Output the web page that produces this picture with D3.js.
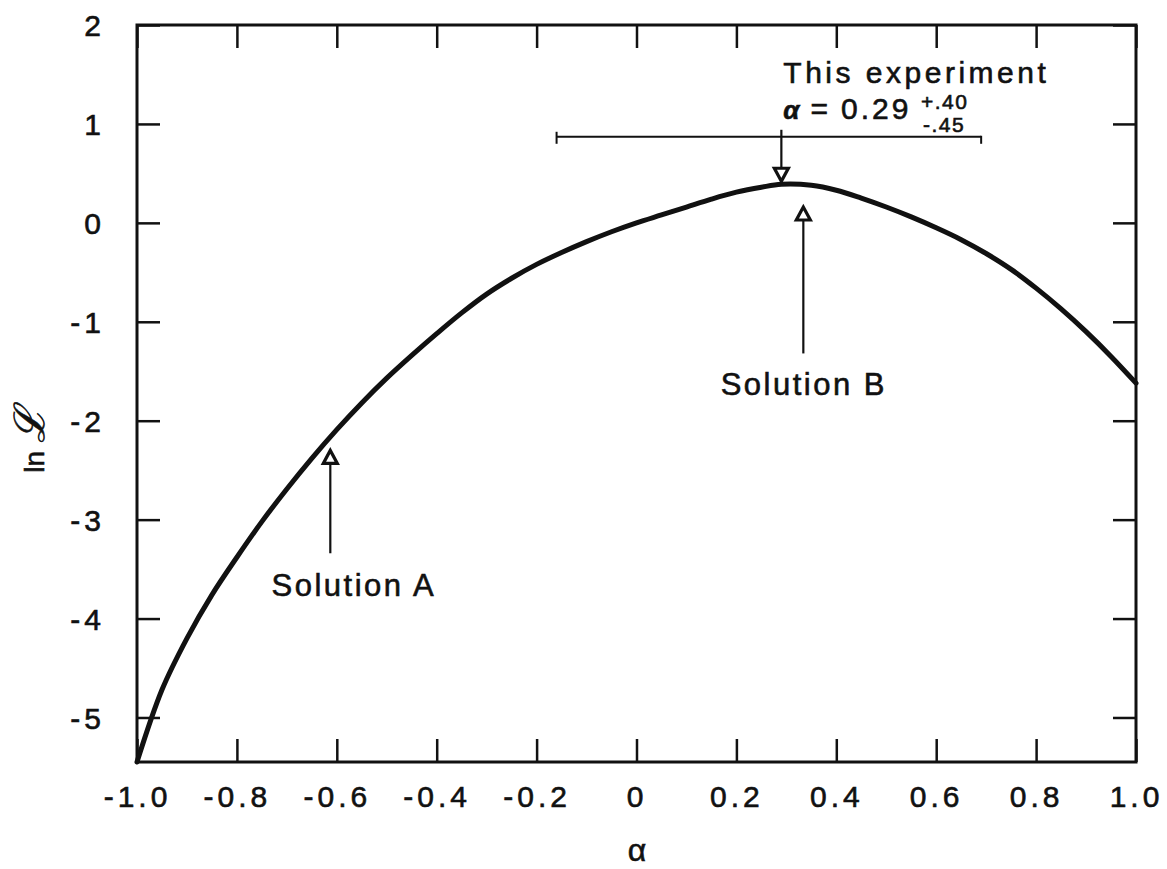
<!DOCTYPE html>
<html>
<head>
<meta charset="utf-8">
<script src="https://cdn.jsdelivr.net/npm/d3@7"></script>
<style>
  html, body { margin: 0; padding: 0; background: #fff; }
  svg { display: block; }
  text { font-family: "Liberation Sans", Arial, sans-serif; fill: #111; stroke: #111; stroke-width: 0.6px; }
</style>
</head>
<body>
<div id="chart"></div>
<script>
// ---- data ----
const alpha = [-1.0, -0.95, -0.9, -0.85, -0.8, -0.75, -0.7, -0.65, -0.6, -0.55, -0.5, -0.45, -0.4, -0.35, -0.3, -0.25, -0.2, -0.15, -0.1, -0.05, 0.0, 0.05, 0.1, 0.15, 0.2, 0.25, 0.29, 0.35, 0.4, 0.45, 0.5, 0.55, 0.6, 0.65, 0.7, 0.75, 0.8, 0.85, 0.9, 0.95, 1.0];
const lnL   = [-5.45, -4.72, -4.20, -3.76, -3.38, -3.02, -2.69, -2.38, -2.09, -1.82, -1.57, -1.34, -1.12, -0.91, -0.72, -0.56, -0.42, -0.30, -0.19, -0.09, 0.0, 0.08, 0.16, 0.24, 0.31, 0.36, 0.39, 0.38, 0.33, 0.25, 0.16, 0.06, -0.05, -0.17, -0.31, -0.47, -0.66, -0.87, -1.10, -1.35, -1.62];
const xTicks = [-1.0, -0.8, -0.6, -0.4, -0.2, 0, 0.2, 0.4, 0.6, 0.8, 1.0];
const xTickLabels = ["-1.0", "-0.8", "-0.6", "-0.4", "-0.2", "0", "0.2", "0.4", "0.6", "0.8", "1.0"];
const yTicks = [-5, -4, -3, -2, -1, 0, 1, 2];
const yTickLabels = ["-5", "-4", "-3", "-2", "-1", "0", "1", "2"];
const bestAlpha = 0.29, errPlus = 0.40, errMinus = 0.45;
const errBarLnL = 0.87;
const solutionA = { label: "Solution A", alpha: -0.613, tip: -2.30, tail: -3.34, textAlpha: -0.566, textLnL: -3.77 };
const solutionB = { label: "Solution B", alpha: 0.334, tip: 0.16, tail: -1.32, textAlpha: 0.335, textLnL: -1.74 };

// ---- layout ----
const W = 1167, H = 869;
const x = d3.scaleLinear().domain([-1, 1]).range([137, 1136]);
const y = d3.scaleLinear().domain([-5.45, 2]).range([762, 25]);

const svg = d3.select("#chart").append("svg").attr("width", W).attr("height", H);

svg.append("rect")
  .attr("x", x(-1)).attr("y", y(2))
  .attr("width", x(1) - x(-1)).attr("height", y(-5.45) - y(2))
  .attr("fill", "none").attr("stroke", "#111").attr("stroke-width", 3);

const tickLen = 23;
const gB = svg.append("g").attr("transform", `translate(0,${y(-5.45)})`)
  .call(d3.axisBottom(x).tickValues(xTicks).tickSizeInner(-tickLen).tickSizeOuter(0)
    .tickFormat((d, i) => xTickLabels[i]).tickPadding(0));
const gT = svg.append("g").attr("transform", `translate(0,${y(2)})`)
  .call(d3.axisTop(x).tickValues(xTicks).tickSizeInner(-tickLen).tickSizeOuter(0).tickFormat(""));
const gL = svg.append("g").attr("transform", `translate(${x(-1)},0)`)
  .call(d3.axisLeft(y).tickValues(yTicks).tickSizeInner(-tickLen).tickSizeOuter(0)
    .tickFormat((d, i) => yTickLabels[i]).tickPadding(0));
const gR = svg.append("g").attr("transform", `translate(${x(1)},0)`)
  .call(d3.axisRight(y).tickValues(yTicks).tickSizeInner(-tickLen).tickSizeOuter(0).tickFormat(""));

[gB, gT, gL, gR].forEach(g => {
  g.select(".domain").remove();
  g.selectAll(".tick line").attr("stroke", "#111").attr("stroke-width", 2.5);
});
gB.selectAll(".tick text")
  .attr("font-size", 30).attr("letter-spacing", 4).attr("fill", "#111")
  .attr("dy", 0).attr("y", 45)
  .style("font-family", "'Liberation Sans', Arial, sans-serif");
gL.selectAll(".tick text")
  .attr("font-size", 30).attr("letter-spacing", 4).attr("fill", "#111")
  .attr("x", -32).attr("dy", "0.36em")
  .style("font-family", "'Liberation Sans', Arial, sans-serif");

svg.append("text").attr("x", 637).attr("y", 861)
  .attr("text-anchor", "middle").attr("font-size", 32).text("α");

svg.append("text")
  .attr("transform", `translate(44,${y(-2.2)}) rotate(-90)`)
  .attr("text-anchor", "middle").attr("font-size", 28)
  .call(t => {
    t.append("tspan").text("ln ");
    t.append("tspan").attr("font-size", 42).attr("font-style", "italic")
      .style("font-family", "'DejaVu Serif', serif").text("ℒ");
  });

const pts = alpha.map((a, i) => [a, lnL[i]]);
svg.append("path")
  .datum(pts)
  .attr("fill", "none").attr("stroke", "#111").attr("stroke-width", 5)
  .attr("stroke-linejoin", "round").attr("stroke-linecap", "round")
  .attr("d", d3.line().x(d => x(d[0])).y(d => y(d[1])).curve(d3.curveCatmullRom.alpha(0.5)));

const eb = svg.append("g").attr("stroke", "#111").attr("stroke-width", 2).attr("fill", "none");
const ebY = y(errBarLnL);
eb.append("line").attr("x1", x(bestAlpha - errMinus)).attr("x2", x(bestAlpha + errPlus))
  .attr("y1", ebY).attr("y2", ebY);
eb.append("line").attr("x1", x(bestAlpha - errMinus)).attr("x2", x(bestAlpha - errMinus))
  .attr("y1", ebY - 5).attr("y2", ebY + 7);
eb.append("line").attr("x1", x(bestAlpha + errPlus)).attr("x2", x(bestAlpha + errPlus))
  .attr("y1", ebY - 1).attr("y2", ebY + 7);

function arrow(ax, yFrom, yTo) {
  const dir = yTo > yFrom ? 1 : -1;
  const headLen = 13, headW = 7;
  svg.append("line").attr("x1", ax).attr("x2", ax)
    .attr("y1", yFrom).attr("y2", yTo - dir * headLen)
    .attr("stroke", "#111").attr("stroke-width", 2.2);
  svg.append("path")
    .attr("d", `M${ax},${yTo} L${ax - headW},${yTo - dir * headLen} L${ax + headW},${yTo - dir * headLen} Z`)
    .attr("fill", "#fff").attr("stroke", "#111").attr("stroke-width", 3.2)
    .attr("stroke-linejoin", "miter");
}
arrow(x(bestAlpha), ebY - 7, y(0.39) - 3);
arrow(x(solutionA.alpha), y(solutionA.tail), y(solutionA.tip));
arrow(x(solutionB.alpha), y(solutionB.tail), y(solutionB.tip));

[solutionA, solutionB].forEach(s => {
  svg.append("text").attr("x", x(s.textAlpha)).attr("y", y(s.textLnL))
    .attr("text-anchor", "middle").attr("font-size", 31).attr("letter-spacing", 2.5)
    .text(s.label);
});

svg.append("text").attr("x", x(bestAlpha) + 2).attr("y", 83)
  .attr("font-size", 30).attr("letter-spacing", 3.5).text("This experiment");
svg.append("text").attr("x", x(bestAlpha) + 2).attr("y", 119)
  .attr("font-size", 30).attr("letter-spacing", 3)
  .call(t => {
    t.append("tspan").attr("font-weight", "bold").attr("font-style", "italic").attr("font-size", 26).text("α");
    t.append("tspan").attr("dx", 8).text("=");
    t.append("tspan").attr("dx", 10).text(bestAlpha.toFixed(2));
  });
svg.append("text").attr("x", 921).attr("y", 109)
  .attr("font-size", 21).attr("letter-spacing", 1.5).text("+." + String(Math.round(errPlus * 100)).padStart(2, "0"));
svg.append("text").attr("x", 923).attr("y", 132)
  .attr("font-size", 21).attr("letter-spacing", 1.5).text("-." + String(Math.round(errMinus * 100)).padStart(2, "0"));
</script>
</body>
</html>
